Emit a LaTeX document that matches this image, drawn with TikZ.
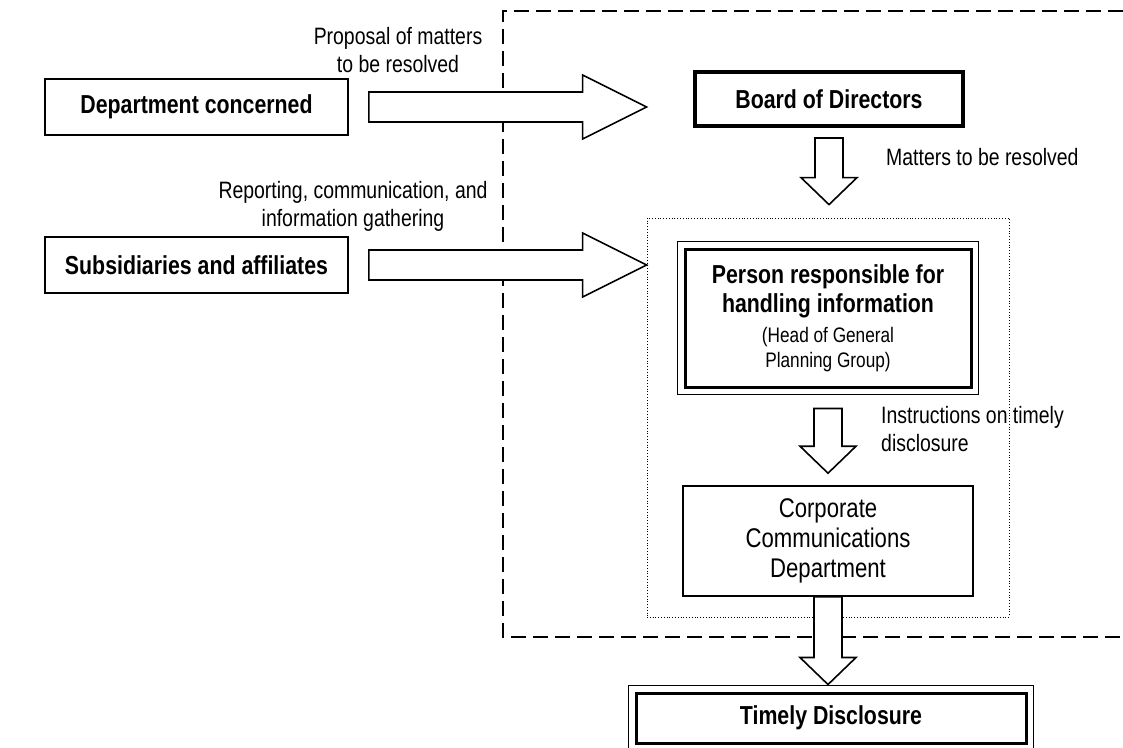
\documentclass[tikz,border=0pt]{standalone}
\usepackage{fontspec}
\setmainfont{Liberation Sans}[FakeStretch=0.82]
\usetikzlibrary{calc}

% hollow block arrows
\newcommand{\rarrow}[2]{\draw[blockarrow] let \p1=(#1), \p2=(#2) in
	(\x1,\y1+15) -- (\x2-64,\y1+15) -- (\x2-64,\y1+32) -- (\x2,\y1)
	-- (\x2-64,\y1-32) -- (\x2-64,\y1-15) -- (\x1,\y1-15) -- cycle;}
\newcommand{\darrow}[2]{\draw[blockarrow] let \p1=(#1), \p2=(#2) in
	(\x1-14,\y1) -- (\x1+14,\y1) -- (\x1+14,\y2+27) -- (\x1+28,\y2+27) -- (\x1,\y2)
	-- (\x1-28,\y2+27) -- (\x1-14,\y2+27) -- cycle;}
\newcommand{\smalltxt}{\fontsize{21}{25}\selectfont\mdseries}

\begin{document}
\begin{tikzpicture}[x=1pt,y=-1pt,
		box/.style={draw,line width=1.6pt,inner sep=0pt},
		bold/.style={font=\fontsize{26}{30}\selectfont\bfseries},
		lbl/.style={inner sep=0pt,font=\fontsize{23.7}{28}\selectfont},
		blockarrow/.style={line width=1.6pt,fill=white,draw,line join=miter}]
	\clip (0,0) rectangle (1123,747);
	\draw[line width=2pt,dash pattern=on 15pt off 7pt] (1123,11) -| (503,637) -- (1123,637);
	% left side
	\node[box,bold,minimum width=303,minimum height=56] (dept) at (196.5,107) {Department concerned};
	\node[box,bold,minimum width=303,minimum height=56] (subs) at (196.5,265) {Subsidiaries and affiliates};
	\node[lbl,align=center] (prop) at (398,50) {Proposal of matters\\to be resolved};
	\node[lbl,align=center] (rep) at (353,206) {Reporting, communication, and\\information gathering};
	% right side
	\node[draw,line width=0.8pt,dotted,minimum width=362,minimum height=399] (grp) at (828,417.5) {};
	\node[draw,line width=4pt,bold,minimum width=268,minimum height=54] (board) at (829,99) {Board of Directors};
	\node[draw,line width=3pt,align=center,minimum width=286,minimum height=138,
		font=\fontsize{26}{29.5}\selectfont\bfseries] (person) at (828,318)
		{Person responsible for\\handling information\\
		\smalltxt (Head of General\\[-4.5pt]\smalltxt Planning Group)};
	\draw[line width=1.3pt] ($(person.south west)+(-6,6)$) rectangle ($(person.north east)+(6,-6)$);
	\node[box,align=center,font=\fontsize{27}{30}\selectfont,minimum width=290,minimum height=110] (corp) at (828,541)
		{Corporate\\Communications\\Department};
	\node[draw,line width=3pt,bold,minimum width=390,minimum height=50] (tdis) at (831,718) {Timely Disclosure};
	\draw[line width=1.6pt] ($(tdis.south west)+(-6,6)$) rectangle ($(tdis.north east)+(6,-6)$);
	\node[lbl,anchor=west] (mtr) at (886,157) {Matters to be resolved};
	\node[lbl,anchor=west,align=left] (ins) at (881,429) {Instructions on timely\\disclosure};
	% arrows
	\coordinate (r1s) at ($(dept.east)+(20,0)$);
	\coordinate (r2s) at ($(subs.east)+(20,0)$);
	\rarrow{r1s}{grp.west |- dept}
	\rarrow{r2s}{grp.west |- subs}
	\coordinate (d1s) at ($(board.south)+(0,10)$);
	\coordinate (d1e) at ($(grp.north)+(1,-13)$);
	\coordinate (d2s) at ($(person.south)+(0,20)$);
	\coordinate (d2e) at ($(corp.north)+(0,-12)$);
	\coordinate (d3e) at ($(tdis.north)+(-2,-7)$);
	\darrow{d1s}{d1e}
	\darrow{d2s}{d2e}
	\darrow{corp.south}{d3e}
\end{tikzpicture}
\end{document}
